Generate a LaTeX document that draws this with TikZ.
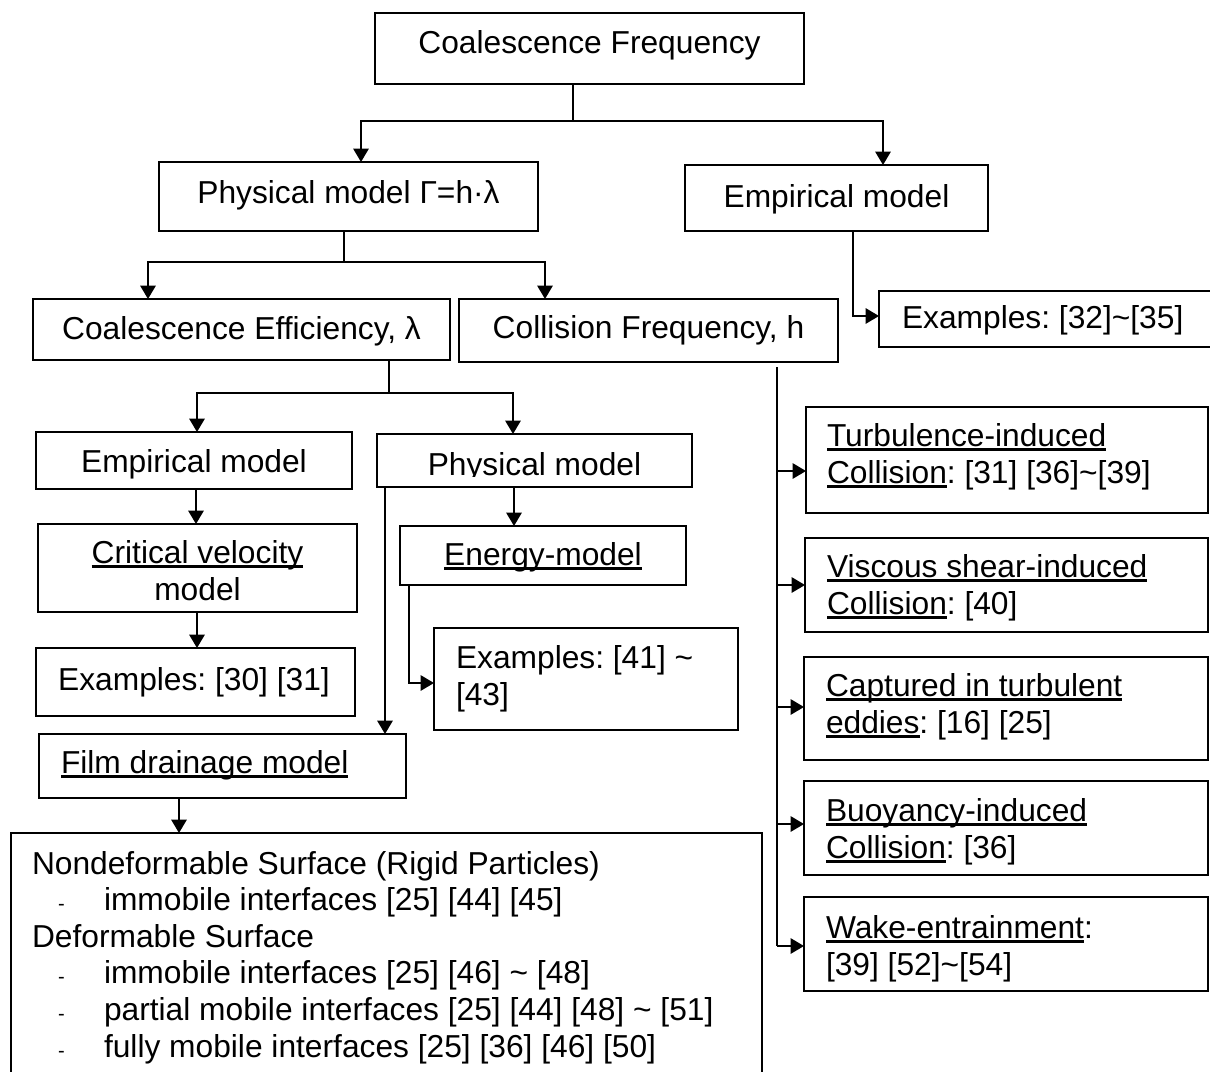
\documentclass[tikz,border=0pt]{standalone}
\usepackage{fontspec}
\setmainfont{Liberation Sans}
\usetikzlibrary{arrows.meta,calc}
% underline sitting just below the baseline
\newcommand\ulk[1]{\setbox0\hbox{#1}\rlap{\rule[-0.15em]{\wd0}{0.08em}}\box0}
\newcommand\smalldash{{\fontsize{15}{15}\selectfont -}}
\newcommand\dashitem[1]{\hspace*{19.5pt}\makebox[34.5pt][l]{\smalldash}#1}
\begin{document}
\begin{tikzpicture}[x=0.75pt,y=-0.75pt,
  box/.style={draw, line width=1.4pt, rectangle, inner sep=0pt, outer sep=0pt},
  txt/.style={inner sep=0pt, outer sep=0pt, font=\fontsize{23.8}{27.75}\selectfont\frenchspacing},
  listtxt/.style={txt, font=\fontsize{23.8}{27.45}\selectfont\frenchspacing},
  wire/.style={line width=1.3pt},
  conn/.style={wire, -{Triangle[length=10pt,width=11.5pt]}}]
\useasboundingbox (0,0) rectangle (1210,1071);
\clip (0,0) rectangle (1210,1071);

% ---------- boxes ----------
\node[box, minimum width=321.75pt, minimum height=53.25pt] (top)    at (589.5,48.5) {};
\node[box, minimum width=284.25pt, minimum height=51.75pt] (physA)  at (348.5,196.5) {};
\node[box, minimum width=227.25pt, minimum height=49.5pt]  (empA)   at (836.5,198) {};
\node[box, minimum width=312.75pt, minimum height=45.75pt] (effic)  at (241.5,329.5) {};
\node[box, minimum width=284.25pt, minimum height=47.25pt] (coll)   at (648.5,330.5) {};
\node[box, minimum width=267pt,    minimum height=42pt]    (exA)    at (1057,319) {};
\node[box, minimum width=237pt,    minimum height=42.75pt] (empB)   at (194,460.5) {};
\node[box, minimum width=236.25pt, minimum height=39.75pt] (physB)  at (534.5,460.5) {};
\node[box, minimum width=239.25pt, minimum height=66pt]    (crit)   at (197.5,568) {};
\node[box, minimum width=239.25pt, minimum height=51pt]    (exB)    at (195.5,682) {};
\node[box, minimum width=214.5pt,  minimum height=44.25pt] (energy) at (543,555.5) {};
\node[box, minimum width=228pt,    minimum height=76.5pt]  (exC)    at (586,679) {};
\node[box, minimum width=275.25pt, minimum height=48pt]    (film)   at (222.5,766) {};
\node[box, minimum width=563.25pt, minimum height=200.25pt] (big)   at (386.5,966.5) {};
\node[box, minimum width=301.5pt,  minimum height=79.5pt]  (turb)   at (1007,460) {};
\node[box, minimum width=302.25pt, minimum height=70.5pt]  (visc)   at (1006.5,585) {};
\node[box, minimum width=303pt,    minimum height=77.25pt] (capt)   at (1006,708.5) {};
\node[box, minimum width=303pt,    minimum height=70.5pt]  (buoy)   at (1006,828) {};
\node[box, minimum width=303pt,    minimum height=70.5pt]  (wake)   at (1006,944) {};

% ---------- texts (multi-line nodes are placed by their last baseline) ----------
\node[txt, anchor=base] (topT)   at (589.5,53)  {Coalescence Frequency};
\node[txt, anchor=base] (physAT) at (348.5,203) {Physical model Γ=h·λ};
\node[txt, anchor=base] (empAT)  at (836.5,207) {Empirical model};
\node[txt, anchor=base] (efficT) at (241.5,339) {Coalescence Efficiency, λ};
\node[txt, anchor=base] (collT)  at (648.5,338) {Collision Frequency, h};
\node[txt, anchor=base west] (exAT) at (902,328) {Examples: [32]\textasciitilde[35]};
\node[txt, anchor=base] (empBT)  at (194,472)   {Empirical model};
\begin{scope}
  \clip (physB.north west) rectangle (physB.east |- 0,476);
  \node[txt, anchor=base] (physBT) at (534.5,475) {Physical model};
\end{scope}
\node[txt, anchor=base, align=center] (critT) at (197.5,600) {\ulk{Critical velocity}\\model};
\node[txt, anchor=base] (exBT)   at (194,690)   {Examples: [30] [31]};
\node[txt, anchor=base] (energyT) at (543,565)  {\ulk{Energy-model}};
\node[txt, anchor=base west, align=left] (exCT) at (456,705) {Examples: [41] \textasciitilde\\{[43]}};
\node[txt, anchor=base west] (filmT) at (61,773) {\ulk{Film drainage model}};
\node[listtxt, anchor=base west, align=left] (bigT) at (32,1057) {%
  Nondeformable Surface (Rigid Particles)\\
  \dashitem{immobile interfaces [25] [44] [45]}\\
  Deformable Surface\\
  \dashitem{immobile interfaces [25] [46] \textasciitilde{} [48]}\\
  \dashitem{partial mobile interfaces [25] [44] [48] \textasciitilde{} [51]}\\
  \dashitem{fully mobile interfaces [25] [36] [46] [50]}};
\node[txt, anchor=base west, align=left] (turbT) at (827,483) {\ulk{Turbulence-induced}\\\ulk{Collision}: [31] [36]\textasciitilde[39]};
\node[txt, anchor=base west, align=left] (viscT) at (827,614) {\ulk{Viscous shear-induced}\\\ulk{Collision}: [40]};
\node[txt, anchor=base west, align=left] (captT) at (826,733) {\ulk{Captured in turbulent}\\\ulk{eddies}: [16] [25]};
\node[txt, anchor=base west, align=left] (buoyT) at (826,858) {\ulk{Buoyancy-induced}\\\ulk{Collision}: [36]};
\node[txt, anchor=base west, align=left] (wakeT) at (826,975) {\ulk{Wake-entrainment}:\\{[39]} [52]\textasciitilde[54]};

% ---------- connectors ----------
\coordinate (j1) at (573,121);
\coordinate (j2) at (344,262);
\coordinate (j3) at (389,393);
\coordinate (spTop) at (777,367);
\coordinate (spBot) at (777,946);

\draw[wire] (top.south -| j1) -- (j1);
\draw[conn] (j1) -| (physA.north -| 361,0);
\draw[conn] (j1) -| (empA.north -| 883,0);

\draw[wire] (physA.south -| j2) -- (j2);
\draw[conn] (j2) -| (effic.north -| 148,0);
\draw[conn] (j2) -| (coll.north -| 545,0);

\draw[conn] (empA.south -| 853,0) |- (exA.west |- 0,316);

\draw[wire] (effic.south -| j3) -- (j3);
\draw[conn] (j3) -| (empB.north -| 197,0);
\draw[conn] (j3) -| (physB.north -| 513,0);

\draw[conn] (empB.south -| 196,0) -- (crit.north -| 196,0);
\draw[conn] (crit.south -| 197,0) -- (exB.north -| 197,0);
\draw[conn] (physB.south -| 514,0) -- (energy.north -| 514,0);
\draw[conn] (energy.south -| 409,0) |- (exC.west |- 0,683);
\draw[conn] (physB.south -| 385,0) -- (film.north -| 385,0);
\draw[conn] (film.south -| 179,0) -- (big.north -| 179,0);

% branch line below the collision-frequency box
\draw[wire] (spTop) -- (spBot);
\draw[conn] (spTop |- 0,471) -- (turb.west |- 0,471);
\draw[conn] (spTop |- 0,585) -- (visc.west |- 0,585);
\draw[conn] (spTop |- 0,707) -- (capt.west |- 0,707);
\draw[conn] (spTop |- 0,824) -- (buoy.west |- 0,824);
\draw[conn] (spBot) -- (wake.west |- spBot);
\end{tikzpicture}
\end{document}
